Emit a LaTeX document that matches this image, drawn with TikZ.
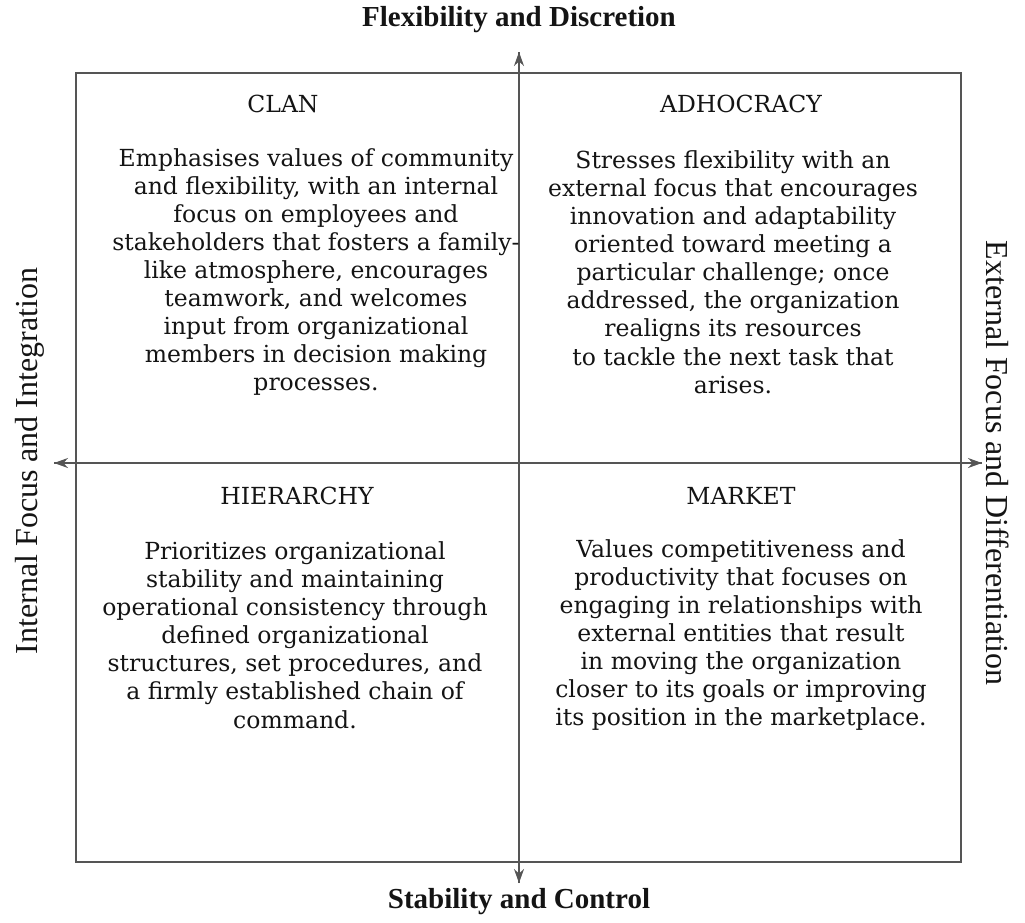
\documentclass[tikz,border=0pt]{standalone}
\usepackage{fontspec}
\setmainfont{DejaVu Serif}
\newfontfamily\quadfont{DejaVu Serif}
\newfontfamily\axisfont{Liberation Serif}
\usetikzlibrary{arrows.meta}
\definecolor{ink}{HTML}{141414}
\definecolor{rule}{HTML}{555555}
\begin{document}
\begin{tikzpicture}[x=1pt,y=-1pt,
  frame/.style={draw=rule,line width=1.6pt},
  axis/.style={draw=rule,line width=1.6pt,-{Stealth[length=14pt,width=10pt]}},
  title/.style={text=ink,font=\quadfont\fontsize{23.5}{28}\selectfont,inner sep=0pt},
  body/.style={text=ink,align=center,inner sep=0pt,font=\quadfont\fontsize{23.5}{28.1}\selectfont},
  axislabel/.style={text=ink,inner sep=0pt,font=\axisfont\bfseries\fontsize{29}{32}\selectfont},
  sidelabel/.style={text=ink,inner sep=0pt,font=\axisfont\fontsize{32}{35}\selectfont}]
\useasboundingbox (0,0) rectangle (1025,922);
% outer frame
\draw[frame] (76,73) rectangle (961,862);
% axes
\coordinate (top) at (519,52);
\coordinate (bottom) at (519,883);
\coordinate (left) at (54,463);
\coordinate (right) at (982,463);
\draw[axis] (bottom) -- (top);
\draw[axis] (top) -- (bottom);
\draw[axis] (right) -- (left);
\draw[axis] (left) -- (right);
% axis labels
\node[axislabel] (ltop) at (519,20) {Flexibility and Discretion};
\node[axislabel] (lbot) at (519,902) {Stability and Control};
\node[sidelabel,rotate=90] (lleft) at (30,461) {Internal Focus and Integration};
\node[sidelabel,rotate=-90] (lright) at (998,463) {External Focus and Differentiation};
% quadrant titles
\node[title] (clan) at (283,104) {CLAN};
\node[title] (adho) at (741,104) {ADHOCRACY};
\node[title] (hier) at (297,496) {HIERARCHY};
\node[title] (mark) at (741,496) {MARKET};
% quadrant descriptions
\node[body] (clanb) at (316,272) {Emphasises values of community\\and flexibility, with an internal\\focus on employees and\\stakeholders that fosters a family-\\like atmosphere, encourages\\teamwork, and welcomes\\input from organizational\\members in decision making\\processes.};
\node[body] (adhob) at (733,272) {Stresses flexibility with an\\external focus that encourages\\innovation and adaptability\\oriented toward meeting a\\particular challenge; once\\addressed, the organization\\realigns its resources\\to tackle the next task that\\arises.};
\node[body] (hierb) at (295,635) {Prioritizes organizational\\stability and maintaining\\operational consistency through\\defined organizational\\structures, set procedures, and\\a firmly established chain of\\command.};
\node[body] (markb) at (741,635) {Values competitiveness and\\productivity that focuses on\\engaging in relationships with\\external entities that result\\in moving the organization\\closer to its goals or improving\\its position in the marketplace.};
\end{tikzpicture}
\end{document}
